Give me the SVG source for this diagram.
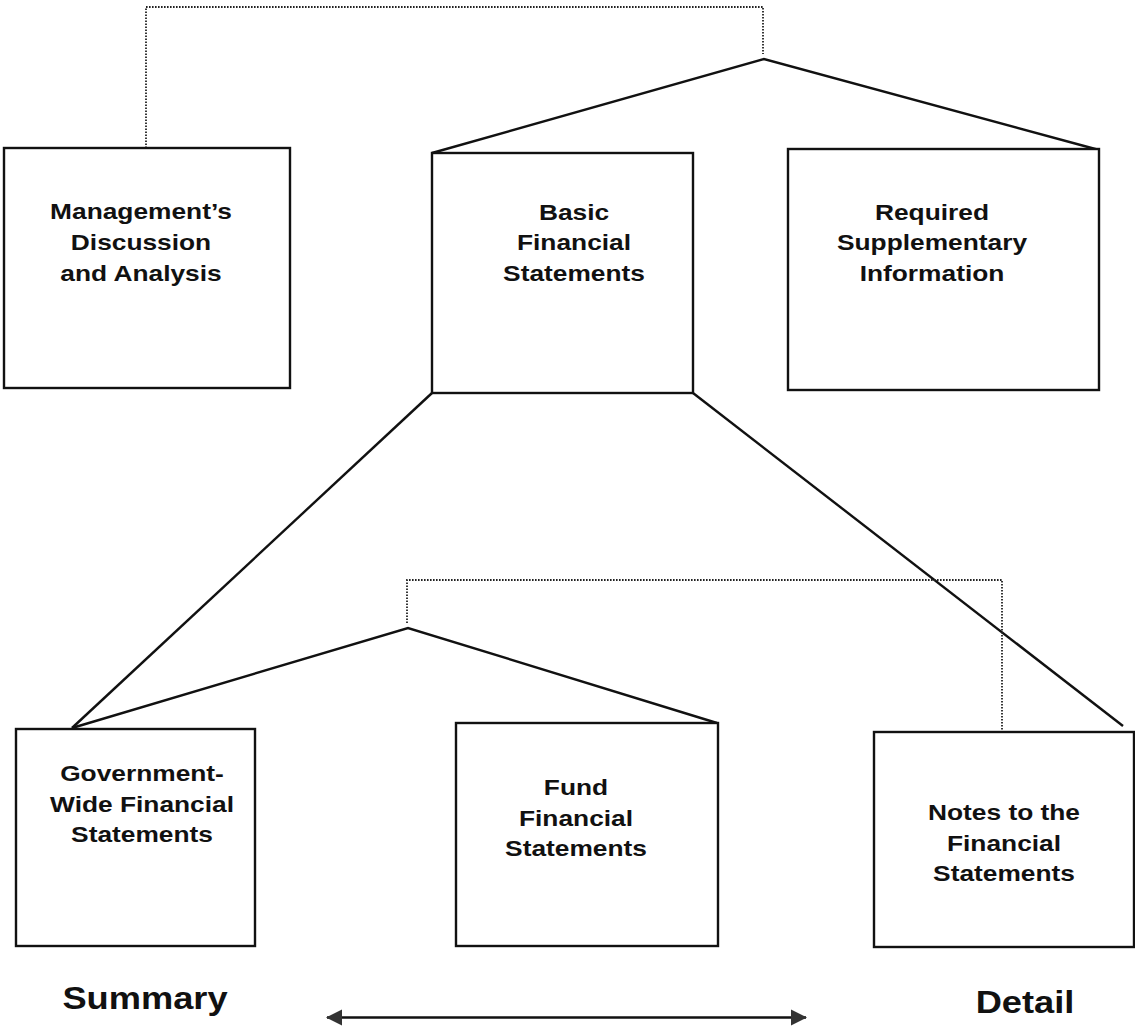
<svg xmlns="http://www.w3.org/2000/svg" width="1135" height="1028" viewBox="0 0 1135 1028">
<style>
.box{fill:#fff;stroke:#111;stroke-width:2.4}
.ln{fill:none;stroke:#111;stroke-width:2.4}
.dot{fill:none;stroke:#222;stroke-width:1.8;stroke-dasharray:1.6 1.4}
.t{font-family:"Liberation Sans",Arial,sans-serif;font-weight:bold;font-size:22.5px;fill:#111;text-anchor:middle}
.big{font-family:"Liberation Sans",Arial,sans-serif;font-weight:bold;font-size:31px;fill:#111;text-anchor:middle}
</style>
<defs>
<marker id="ah" markerUnits="userSpaceOnUse" markerWidth="16" markerHeight="18" viewBox="0 0 16 18" refX="15" refY="9" orient="auto-start-reverse">
<path d="M0,1 L16,9 L0,17 Z" fill="#333"/>
</marker>
</defs>
<rect width="1135" height="1028" fill="#fff"/>
<g id="connectors">
<path class="dot" d="M146,148 V7 H763 V54"/>
<path class="ln" d="M432,153 L764,59 L1099,150"/>
<path class="ln" d="M432,393 L72,728"/>
<path class="ln" d="M693,393 L1123,726"/>
<path class="dot" d="M407,623 V580 H1002 V731"/>
<path class="ln" d="M72,728 L408,628 L717,723"/>
<line class="ln" x1="327" y1="1017.5" x2="806" y2="1017.5" marker-start="url(#ah)" marker-end="url(#ah)"/>
</g>
<g id="mdna">
<rect class="box" x="4" y="148" width="286" height="240"/>
<text class="t" transform="translate(141 0) scale(1.17 1)"><tspan x="0" y="219">Management’s</tspan><tspan x="0" y="250">Discussion</tspan><tspan x="0" y="281">and Analysis</tspan></text>
</g>
<g id="basic">
<rect class="box" x="432" y="153" width="261" height="240"/>
<text class="t" transform="translate(574 0) scale(1.17 1)"><tspan x="0" y="220">Basic</tspan><tspan x="0" y="250">Financial</tspan><tspan x="0" y="281">Statements</tspan></text>
</g>
<g id="rsi">
<rect class="box" x="788" y="149" width="311" height="241"/>
<text class="t" transform="translate(932 0) scale(1.17 1)"><tspan x="0" y="220">Required</tspan><tspan x="0" y="250">Supplementary</tspan><tspan x="0" y="281">Information</tspan></text>
</g>
<g id="govwide">
<rect class="box" x="16" y="729" width="239" height="217"/>
<text class="t" transform="translate(142 0) scale(1.17 1)"><tspan x="0" y="781">Government-</tspan><tspan x="0" y="812">Wide Financial</tspan><tspan x="0" y="842">Statements</tspan></text>
</g>
<g id="fund">
<rect class="box" x="456" y="723" width="262" height="223"/>
<text class="t" transform="translate(576 0) scale(1.17 1)"><tspan x="0" y="795">Fund</tspan><tspan x="0" y="826">Financial</tspan><tspan x="0" y="856">Statements</tspan></text>
</g>
<g id="notes">
<rect class="box" x="874" y="732" width="260" height="215"/>
<text class="t" transform="translate(1004 0) scale(1.17 1)"><tspan x="0" y="820">Notes to the</tspan><tspan x="0" y="851">Financial</tspan><tspan x="0" y="881">Statements</tspan></text>
</g>
<g id="summary">
<text class="big" transform="translate(145 0) scale(1.17 1)" x="0" y="1009">Summary</text>
</g>
<g id="detail">
<text class="big" transform="translate(1025 0) scale(1.17 1)" x="0" y="1013">Detail</text>
</g>
</svg>
